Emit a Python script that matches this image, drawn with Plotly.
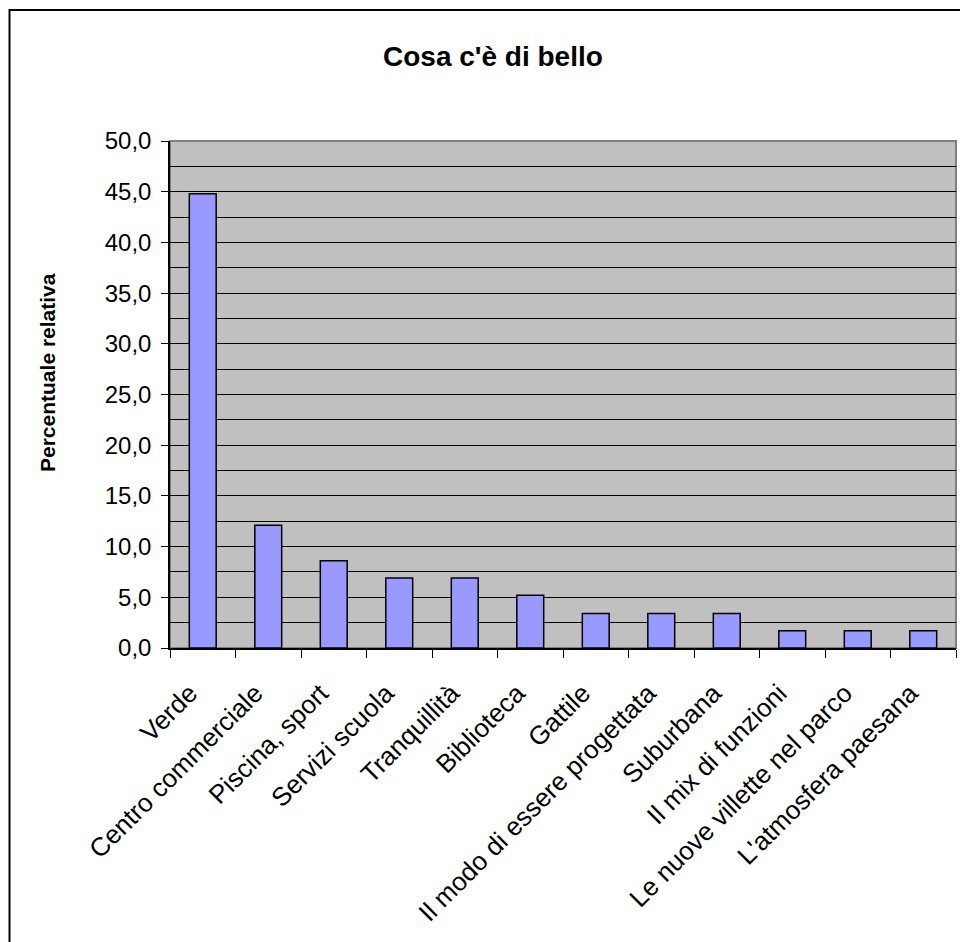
import plotly.graph_objects as go

# --- Dati ---
categorie = ['Verde', 'Centro commerciale', 'Piscina, sport', 'Servizi scuola',
             'Tranquillità', 'Biblioteca', 'Gattile', 'Il modo di essere progettata',
             'Suburbana', 'Il mix di funzioni', 'Le nuove villette nel parco',
             "L'atmosfera paesana"]
percentuali = [44.8, 12.1, 8.6, 6.9, 6.9, 5.2, 3.4, 3.4, 3.4, 1.7, 1.7, 1.7]

W, H = 968, 942
OFF = 8  # margine del body nella pagina
L, R, T, B = 170 - OFF, 968 - 956 + OFF, 141 - OFF, 942 - 648 + OFF
pw, ph = W - L - R, H - T - B

def px_x(x):
    return (x - OFF - L) / pw

def px_y(y):
    return (H - B - (y - OFF)) / ph

FONT = 'Arial, Liberation Sans, sans-serif'

fig = go.Figure(go.Bar(
    x=categorie,
    y=percentuali,
    marker=dict(color='#9999FF', line=dict(color='black', width=1.5)),
))

fig.update_layout(
    width=W, height=H,
    margin=dict(l=L, r=R, t=T, b=B),
    paper_bgcolor='white',
    plot_bgcolor='#C0C0C0',
    separators=',.',
    bargap=0.59,
    showlegend=False,
    font=dict(family=FONT, color='black'),
    xaxis=dict(
        tickson='boundaries',
        ticks='outside', ticklen=8, tickcolor='black', tickwidth=1,
        showline=True, linecolor='black', linewidth=1.5,
        tickangle=-45, ticklabelstandoff=18, ticklabelshift=-13,
        tickfont=dict(size=26, family=FONT),
        showgrid=False,
    ),
    yaxis=dict(
        range=[0, 50], dtick=5, tickformat='.1f',
        ticks='outside', ticklen=7, tickcolor='black', tickwidth=1,
        showline=True, linecolor='black', linewidth=1.5,
        showgrid=True, gridcolor='black', gridwidth=1,
        minor=dict(dtick=2.5, showgrid=True, gridcolor='black', gridwidth=1),
        tickfont=dict(size=24, family=FONT), ticklabelstandoff=5,
        zeroline=False,
    ),
    shapes=[
        dict(type='rect', xref='paper', yref='paper', x0=0, x1=1, y0=0, y1=1,
             line=dict(color='#808080', width=2), layer='below'),
        dict(type='rect', xref='paper', yref='paper',
             x0=px_x(9.5), x1=px_x(1000), y0=px_y(10), y1=px_y(980),
             line=dict(color='black', width=2)),
    ],
    annotations=[
        dict(text="<b>Cosa c'è di bello</b>", xref='paper', yref='paper',
             x=px_x(492.5), y=px_y(56), xanchor='center', yanchor='middle',
             showarrow=False, font=dict(size=28, family=FONT)),
        dict(text='<b>Percentuale relativa</b>', xref='paper', yref='paper',
             x=px_x(47), y=px_y(372), xanchor='center', yanchor='middle',
             showarrow=False, textangle=-90, font=dict(size=21, family=FONT)),
    ],
)

fig.write_html('out.html')
